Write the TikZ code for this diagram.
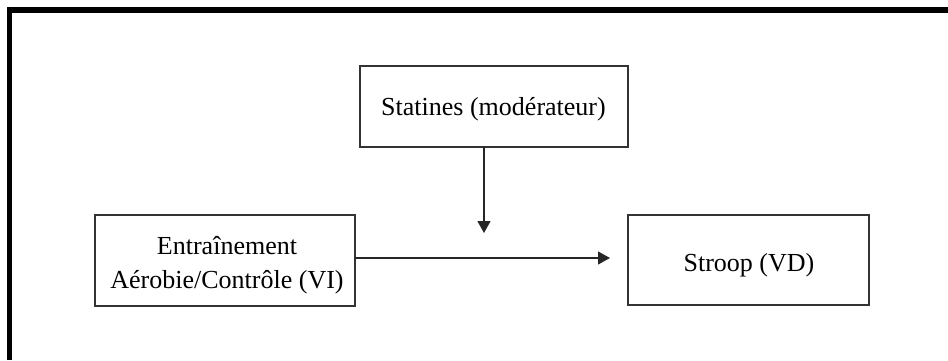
\documentclass[tikz,border=0pt]{standalone}
\usepackage{fontspec}
\setmainfont{Liberation Serif}
\usetikzlibrary{arrows.meta}
\begin{document}
\begin{tikzpicture}[x=0.5pt,y=-0.5pt,
  box/.style={draw=black!80, line width=0.6pt, inner sep=0pt},
  txt/.style={inner sep=0pt, anchor=base, align=center,
    font=\fontsize{13}{17}\selectfont},
  conn/.style={draw=black!85, line width=0.6pt, -{Triangle[length=6pt,width=6.5pt]}}]
\useasboundingbox (0,0) rectangle (948,360);
\fill[white] (0,0) rectangle (948,360);
\draw[line width=2.9pt] (9.5,360) -- (9.5,10) -- (948,10);
\node[box, minimum width=134pt, minimum height=40.5pt] (stat) at (494,106.5) {};
\node[box, minimum width=130pt, minimum height=45.5pt] (vi) at (225,260.5) {};
\node[box, minimum width=120.5pt, minimum height=45pt] (vd) at (748.5,260) {};
\node[txt] (statT) at (493.5,115.7) {Statines (modérateur)};
\node[txt] (viT) at (227,288.3) {Entraînement\\Aérobie/Contrôle (VI)};
\node[txt] (vdT) at (749,271.7) {Stroop (VD)};
\coordinate (vtop) at (484,147);
\coordinate (vend) at (484,233);
\coordinate (hstart) at (355,258);
\coordinate (hend) at (610,258);
\draw[conn] (vtop) -- (vend);
\draw[conn] (hstart) -- (hend);
\end{tikzpicture}
\end{document}
